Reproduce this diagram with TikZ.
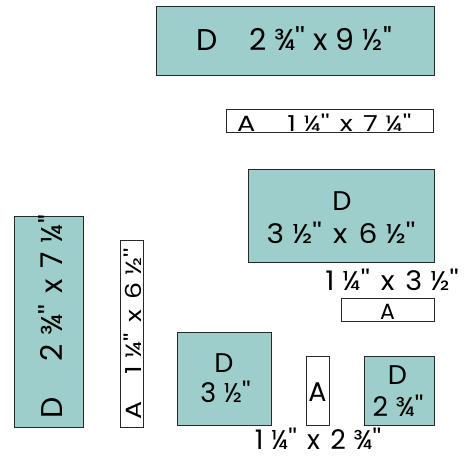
\documentclass[tikz,border=0pt]{standalone}
\usepackage{fontspec}
\newfontfamily\pop{Poppins}[Ligatures=TeXOff]
\definecolor{teal1}{RGB}{158,206,203}
\definecolor{edge}{RGB}{40,40,40}
\newcommand{\inch}{''}
\newcommand{\gp}{\hspace{0.38em}}
\newcommand{\np}{\hspace{0.28em}}
\tikzset{
  piece/.style={draw=edge, line width=1pt, inner sep=0pt, outer sep=0pt},
  dbox/.style={piece, fill=teal1},
  abox/.style={piece, fill=white},
  big/.style={font=\pop\fontsize{30}{34}\selectfont, inner sep=0pt, anchor=base},
  mid/.style={font=\pop\fontsize{27}{30}\selectfont, inner sep=0pt, anchor=base},
  small/.style={font=\pop\fontsize{22}{24}\selectfont, inner sep=0pt, anchor=base},
}
\begin{document}
\begin{tikzpicture}[x=1pt,y=-1pt]
\useasboundingbox (0,0) rectangle (465,458);
% top D
\node[dbox, minimum width=278pt, minimum height=69pt] (d1) at (295,40.5) {};
\node[big, anchor=base west] (t1) at (196,50) {D\hspace{32pt}2 ¾\inch{} x 9 ½\inch};
% A strip
\node[abox, minimum width=207pt, minimum height=23pt] (a1) at (329.5,121) {};
\node[small, anchor=base west] (t2) at (237,131) {\scalebox{1.23}[1]{A\hspace{26pt}1\np¼\inch\gp x\gp 7\np¼\inch}};
% D 3.5 x 6.5
\node[dbox, minimum width=186pt, minimum height=93pt] (d2) at (341,215.5) {};
\node[mid] (t3a) at (342,210) {D};
\node[mid] (t3b) at (341,243) {\scalebox{1.1}[1]{3\np½\inch\gp x\gp 6\np½\inch}};
% label + A small
\node[mid] (t4) at (392,290) {\scalebox{1.06}[1]{1\np¼\inch\gp x\gp 3\np½\inch}};
\node[abox, minimum width=93pt, minimum height=23pt] (a2) at (387.5,309.5) {};
\node[small] (t5) at (387.5,319.5) {A};
% vertical D
\node[dbox, minimum width=69pt, minimum height=211pt] (d3) at (49,321.5) {};
\node[big, rotate=90, anchor=base west] (t6) at (62,419) {D\hspace{36pt}2\hspace{0.3em}¾\inch\hspace{0.36em}x\hspace{0.36em}7\hspace{0.3em}¼\inch};
% vertical A
\node[abox, minimum width=23pt, minimum height=187pt] (a3) at (131.5,333.5) {};
\node[small, rotate=90, anchor=base west] (t7) at (141,420) {\scalebox{1.22}[1]{A\hspace{22pt}1\np¼\inch\gp x\gp 6\np½\inch}};
% D 3.5 square
\node[dbox, minimum width=94pt, minimum height=93pt] (d4) at (224,378.5) {};
\node[mid] (t8a) at (224,372) {D};
\node[mid] (t8b) at (225.5,402) {3\np½\inch};
% A small vertical
\node[abox, minimum width=23pt, minimum height=69pt] (a4) at (317.5,390.5) {};
\node[mid] (t9) at (317.5,401) {A};
% D 2.75 square
\node[dbox, minimum width=70pt, minimum height=69pt] (d5) at (399,390.5) {};
\node[mid] (t10a) at (397.5,384) {D};
\node[mid] (t10b) at (398,416) {2\np¾\inch};
% bottom label
\node[mid, text depth=0pt] (t11) at (318,449) {1\np¼\inch\gp x\gp 2\np¾\inch};
\end{tikzpicture}
\end{document}
